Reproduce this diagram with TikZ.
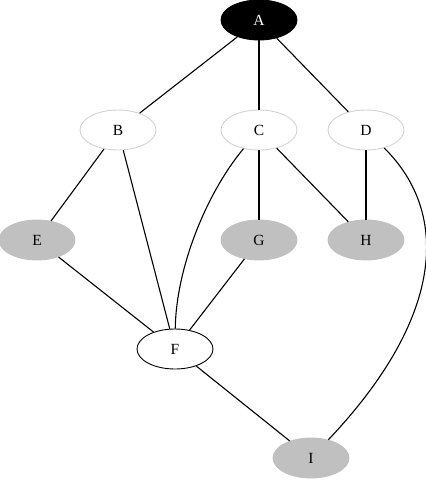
\documentclass[tikz,border=0pt]{standalone}
\usepackage{fontspec}
\setmainfont{Liberation Serif}
\usetikzlibrary{shapes.geometric}
\definecolor{nodegray}{RGB}{192,192,192}
\definecolor{rimgray}{RGB}{211,211,211}
\begin{document}
\begin{tikzpicture}[x=1pt, y=-1pt]

\tikzstyle{vert}=[ellipse, minimum width=76pt, minimum height=40pt, inner sep=0pt, line width=0.9pt, font=\fontsize{15.5}{17}\selectfont]
\tikzstyle{plain}=[vert, draw=rimgray, fill=white]
\tikzstyle{shaded}=[vert, draw=nodegray, fill=nodegray]
\tikzstyle{edge}=[line width=1.1pt]

\useasboundingbox (0,0) rectangle (426,491);

% Top: root
\node[vert, draw=black, fill=black, text=white] (a) at (259,20) {A};

% Second row
\node[plain] (b) at (118,130) {B};
\node[plain] (c) at (259,130) {C};
\node[plain] (d) at (366,130) {D};

% Third row
\node[shaded] (e) at (37,240) {E};
\node[shaded] (g) at (259,240) {G};
\node[shaded] (h) at (366,240) {H};

% Bottom
\node[vert, draw=black, fill=white] (f) at (175,349) {F};
\node[shaded] (i) at (311,458) {I};

\draw[edge] (a) -- (b);
\draw[edge] (a) -- (c);
\draw[edge] (a) -- (d);

\draw[edge] (b) -- (e);
\draw[edge] (b) -- (f);
\draw[edge] (c) .. controls (205,195) and (176,270) .. (f);
\draw[edge] (c) -- (g);
\draw[edge] (c) -- (h);
\draw[edge] (d) -- (h);
\draw[edge] (d) .. controls (452,215) and (442,320) .. (i);

\draw[edge] (e) -- (f);
\draw[edge] (g) -- (f);
\draw[edge] (f) -- (i);

\end{tikzpicture}
\end{document}
